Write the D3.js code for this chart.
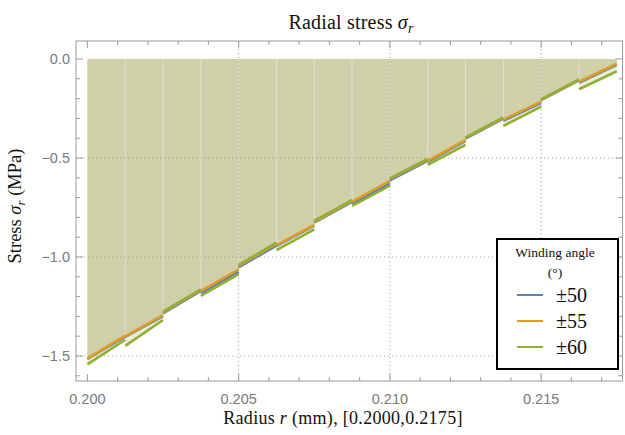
<!DOCTYPE html>
<html><head><meta charset="utf-8">
<script src="https://cdn.jsdelivr.net/npm/d3@7/dist/d3.min.js"></script>
<style>body{margin:0;background:#fff}svg{display:block}</style>
</head><body>
<svg id="chart" width="625" height="435"></svg>
<script>
// ---- data ----
const layerBounds = [0.2000,0.20125,0.2025,0.20375,0.2050,0.20625,0.2075,0.20875,0.2100,0.21125,0.2125,0.21375,0.2150,0.21625,0.2175];
const stress50Start = [-1.515,-1.404,-1.285,-1.182,-1.052,-0.944,-0.826,-0.730,-0.613,-0.519,-0.402,-0.312,-0.208,-0.120];
const stress50End   = [-1.402,-1.298,-1.171,-1.074,-0.942,-0.842,-0.722,-0.628,-0.515,-0.414,-0.301,-0.221,-0.108,-0.030];
const stress55Start = [-1.512,-1.401,-1.280,-1.172,-1.045,-0.940,-0.822,-0.720,-0.605,-0.515,-0.398,-0.306,-0.205,-0.115];
const stress55End   = [-1.397,-1.293,-1.166,-1.062,-0.933,-0.838,-0.716,-0.616,-0.509,-0.409,-0.297,-0.215,-0.105,-0.024];
const stress60Start = [-1.542,-1.449,-1.276,-1.197,-1.040,-0.965,-0.818,-0.742,-0.603,-0.535,-0.396,-0.338,-0.204,-0.153];
const stress60End   = [-1.418,-1.318,-1.163,-1.086,-0.928,-0.860,-0.712,-0.640,-0.505,-0.434,-0.295,-0.241,-0.103,-0.062];
const seriesNames  = ["±50","±55","±60"];
const seriesColors = ["#5E81B5","#E19C24","#8FB032"];
const xTickValues = [0.200,0.205,0.210,0.215];
const xTickLabels = ["0.200","0.205","0.210","0.215"];
const yTickValues = [0.0,-0.5,-1.0,-1.5];
const yTickLabels = ["0.0","\u22120.5","\u22121.0","\u22121.5"];
const xGridValues = [0.205,0.210,0.215];
const yGridValues = [-0.5,-1.0,-1.5];

const series = [
  {name: seriesNames[0], color: seriesColors[0], start: stress50Start, end: stress50End},
  {name: seriesNames[1], color: seriesColors[1], start: stress55Start, end: stress55End},
  {name: seriesNames[2], color: seriesColors[2], start: stress60Start, end: stress60End}
];

// ---- layout ----
const L = 76, R = 622.5, T = 41, B = 381;
const x = d3.scaleLinear().domain([0.199623, 0.217689]).range([L, R]);
const y = d3.scaleLinear().domain([-1.6263, 0.0909]).range([B, T]);

const svg = d3.select("#chart");
const serif = "'Liberation Serif','Times New Roman',serif";
const sans = "'Liberation Sans',Arial,sans-serif";

// grid
const grid = svg.append("g").attr("stroke", "#a8a8a8").attr("stroke-width", 1.1).attr("stroke-dasharray", "1.2,2.8");
grid.selectAll(".gx").data(xGridValues).join("line")
  .attr("x1", d => x(d)).attr("x2", d => x(d)).attr("y1", T).attr("y2", B);
grid.selectAll(".gy").data(yGridValues).join("line")
  .attr("y1", d => y(d)).attr("y2", d => y(d)).attr("x1", L).attr("x2", R);

// segments
function segs(s) {
  return d3.range(layerBounds.length - 1).map(i => [
    {r: layerBounds[i], v: s.start[i]},
    {r: layerBounds[i + 1], v: s.end[i]}
  ]);
}
const area = d3.area().x(d => x(d.r)).y0(y(0)).y1(d => y(d.v));
const line = d3.line().x(d => x(d.r)).y(d => y(d.v));

series.forEach(s => {
  svg.append("g").selectAll("path").data(segs(s)).join("path")
    .attr("d", area).attr("fill", s.color).attr("fill-opacity", 0.2).attr("stroke", "none");
});

// seams at layer boundaries
const seamData = d3.range(1, layerBounds.length - 1).map(i => ({
  r: layerBounds[i],
  v: d3.max(series, s => Math.max(s.start[i], s.end[i - 1]))
}));
svg.append("g").selectAll("line").data(seamData).join("line")
  .attr("x1", d => x(d.r)).attr("x2", d => x(d.r))
  .attr("y1", y(0)).attr("y2", d => y(d.v))
  .attr("stroke", "#fff").attr("stroke-opacity", 0.4).attr("stroke-width", 1);

// lines
series.forEach(s => {
  svg.append("g").selectAll("path").data(segs(s)).join("path")
    .attr("d", line).attr("fill", "none").attr("stroke", s.color).attr("stroke-width", 2.6);
});

// frame
svg.append("rect").attr("x", L).attr("y", T).attr("width", R - L).attr("height", B - T)
  .attr("fill", "none").attr("stroke", "#9a9a9a").attr("stroke-width", 1);

// ticks
const tk = svg.append("g").attr("stroke", "#9a9a9a").attr("stroke-width", 1);
const xMinor = d3.range(0, 18).map(i => 0.2 + i * 0.001);
const yMinor = d3.range(0, 17).map(i => -i * 0.1);
const isMajorX = v => xTickValues.some(t => Math.abs(t - v) < 1e-7);
const isMajorY = v => yTickValues.some(t => Math.abs(t - v) < 1e-7);
xMinor.forEach(v => {
  const len = isMajorX(v) ? 7 : 4;
  tk.append("line").attr("x1", x(v)).attr("x2", x(v)).attr("y1", B).attr("y2", B - len);
  tk.append("line").attr("x1", x(v)).attr("x2", x(v)).attr("y1", T).attr("y2", T + len);
});
yMinor.forEach(v => {
  const len = isMajorY(v) ? 7 : 4;
  tk.append("line").attr("y1", y(v)).attr("y2", y(v)).attr("x1", L).attr("x2", L + len);
  tk.append("line").attr("y1", y(v)).attr("y2", y(v)).attr("x1", R).attr("x2", R - len);
});

// tick labels
svg.append("g").selectAll("text").data(xTickValues).join("text")
  .attr("x", d => x(d)).attr("y", 404).attr("text-anchor", "middle")
  .attr("font-family", sans).attr("font-size", 14.5).attr("fill", "#7a7a7a")
  .text((d, i) => xTickLabels[i]);
svg.append("g").selectAll("text").data(yTickValues).join("text")
  .attr("x", 70).attr("y", d => y(d)).attr("dy", "0.36em").attr("text-anchor", "end")
  .attr("font-family", sans).attr("font-size", 14.5).attr("fill", "#7a7a7a")
  .text((d, i) => yTickLabels[i]);

// title
const title = svg.append("text").attr("x", 351).attr("y", 29).attr("text-anchor", "middle")
  .attr("font-family", serif).attr("font-size", 20).attr("letter-spacing", 0.2).attr("fill", "#111");
title.append("tspan").text("Radial stress ");
title.append("tspan").attr("font-style", "italic").text("σ");
title.append("tspan").attr("font-style", "italic").attr("font-size", 14).attr("dy", 4).text("r");

// x label
const xl = svg.append("text").attr("x", 343).attr("y", 424).attr("text-anchor", "middle")
  .attr("font-family", serif).attr("font-size", 18).attr("letter-spacing", 0.3).attr("fill", "#111");
xl.append("tspan").text("Radius ");
xl.append("tspan").attr("font-style", "italic").text("r");
xl.append("tspan").text(" (mm), [0.2000,0.2175]");

// y label
const yl = svg.append("text").attr("transform", "translate(21,206) rotate(-90)").attr("text-anchor", "middle")
  .attr("font-family", serif).attr("font-size", 18.5).attr("fill", "#111");
yl.append("tspan").text("Stress ");
yl.append("tspan").attr("font-style", "italic").text("σ");
yl.append("tspan").attr("font-style", "italic").attr("font-size", 13).attr("dy", 4).text("r");
yl.append("tspan").attr("dy", -4).text(" (MPa)");

// legend
const lg = svg.append("g");
lg.append("rect").attr("x", 497).attr("y", 239).attr("width", 121).attr("height", 130)
  .attr("fill", "#fff").attr("stroke", "#000").attr("stroke-width", 2);
lg.append("text").attr("x", 555).attr("y", 257).attr("text-anchor", "middle")
  .attr("font-family", serif).attr("font-size", 13.5).attr("fill", "#111").text("Winding angle");
lg.append("text").attr("x", 555).attr("y", 277).attr("text-anchor", "middle")
  .attr("font-family", serif).attr("font-size", 13.5).attr("fill", "#111").text("(°)");
const rows = lg.selectAll(".row").data(series).join("g")
  .attr("transform", (d, i) => `translate(0,${295 + i * 26})`);
rows.append("line").attr("x1", 517).attr("x2", 543).attr("y1", 0).attr("y2", 0)
  .attr("stroke", d => d.color).attr("stroke-width", 2);
rows.append("text").attr("x", 556).attr("y", 6.5).attr("font-family", serif).attr("font-size", 20)
  .attr("fill", "#111").text(d => d.name);
</script>
</body></html>
